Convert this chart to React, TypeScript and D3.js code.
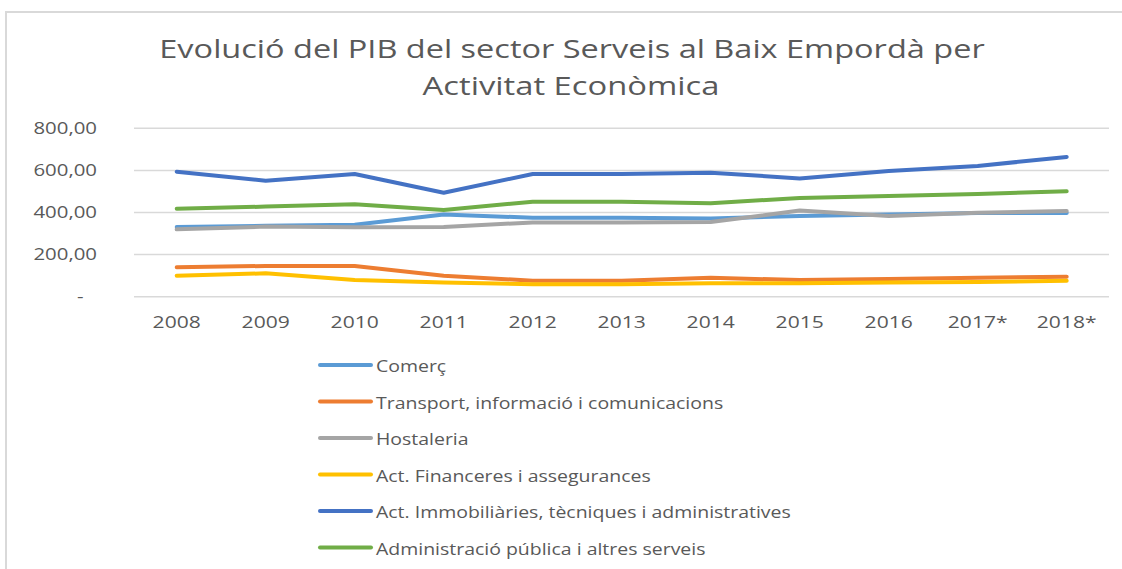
import React from "react";
import * as d3 from "d3";

const categories = ["2008", "2009", "2010", "2011", "2012", "2013", "2014", "2015", "2016", "2017*", "2018*"];
const comerc = [331, 337, 342, 391, 375, 375, 372, 383, 391, 398, 398];
const transport = [140, 146, 146, 100, 76, 76, 90, 79, 84, 90, 95];
const hostaleria = [320, 333, 330, 331, 353, 353, 355, 409, 383, 399, 407];
const financeres = [100, 111, 79, 67, 59, 59, 64, 64, 68, 70, 76];
const immobiliaries = [594, 551, 583, 494, 583, 583, 589, 562, 597, 621, 664];
const administracio = [418, 428, 439, 412, 451, 451, 444, 469, 478, 488, 501];
const yTicks = [0, 200, 400, 600, 800];

const seriesNames = [
  "Comerç",
  "Transport, informació i comunicacions",
  "Hostaleria",
  "Act. Financeres i assegurances",
  "Act. Immobiliàries, tècniques i administratives",
  "Administració pública i altres serveis",
];
const seriesValues = [comerc, transport, hostaleria, financeres, immobiliaries, administracio];
const seriesColors = ["#5B9BD5", "#ED7D31", "#A5A5A5", "#FFC000", "#4472C4", "#70AD47"];

const FONT = "'Open Sans', 'Liberation Sans', sans-serif";
const TXT = "#595959";
const SX = 1.2;

function SText(props: { x: number; y: number; size: number; anchor?: string; children: React.ReactNode; sx?: number }) {
  const { x, y, size, anchor = "start", children, sx = SX } = props;
  return (
    <text
      transform={`translate(${x},${y}) scale(${sx},1)`}
      textAnchor={anchor}
      fontFamily={FONT}
      fontSize={size}
      fill={TXT}
    >
      {children}
    </text>
  );
}

export default function App() {
  const x = d3.scalePoint<string>().domain(categories).range([176.7, 1066.7]);
  const y = d3.scaleLinear().domain([0, 800]).range([296.7, 128.3]);
  const fmt = (v: number) => (v === 0 ? "-" : d3.format(".2f")(v).replace(".", ","));
  const line = d3
    .line<number>()
    .x((_, i) => x(categories[i]) as number)
    .y((d) => y(d));

  const legendX0 = 320;
  const legendX1 = 371;
  const legendY0 = 365;
  const legendStep = 36.5;

  return (
    <svg
      width={1122}
      height={569}
      style={{ position: "absolute", left: 0, top: 0, display: "block", background: "#fff" }}
    >
      <rect x={0} y={0} width={1122} height={569} fill="#fff" />
      <rect x={6} y={12} width={1130} height={600} fill="none" stroke="#D9D9D9" strokeWidth={2} />

      <SText x={572} y={58} size={26} anchor="middle" sx={1.25}>
        Evolució del PIB del sector Serveis al Baix Empordà per
      </SText>
      <SText x={571} y={94.5} size={26} anchor="middle" sx={1.26}>
        Activitat Econòmica
      </SText>

      {yTicks.map((t) => (
        <line key={"g" + t} x1={134} x2={1109} y1={y(t)} y2={y(t)} stroke="#D9D9D9" strokeWidth={1.5} />
      ))}
      {yTicks.map((t) => (
        <SText key={"yt" + t} x={t === 0 ? 83.5 : 97} y={y(t) + 5.7} size={17} anchor="end">
          {fmt(t)}
        </SText>
      ))}
      {categories.map((c) => (
        <SText key={"xt" + c} x={x(c) as number} y={328.3} size={17} anchor="middle" sx={1.24}>
          {c}
        </SText>
      ))}

      {seriesValues.map((vals, i) => (
        <path
          key={"s" + i}
          d={line(vals) || ""}
          fill="none"
          stroke={seriesColors[i]}
          strokeWidth={4}
          strokeLinecap="round"
          strokeLinejoin="round"
        />
      ))}

      {seriesNames.map((n, i) => {
        const ly = legendY0 + i * legendStep;
        return (
          <g key={"l" + i}>
            <line x1={legendX0} x2={legendX1} y1={ly} y2={ly} stroke={seriesColors[i]} strokeWidth={4} strokeLinecap="round" />
            <SText x={376} y={ly + 7} size={17} sx={1.145}>
              {n}
            </SText>
          </g>
        );
      })}
    </svg>
  );
}
